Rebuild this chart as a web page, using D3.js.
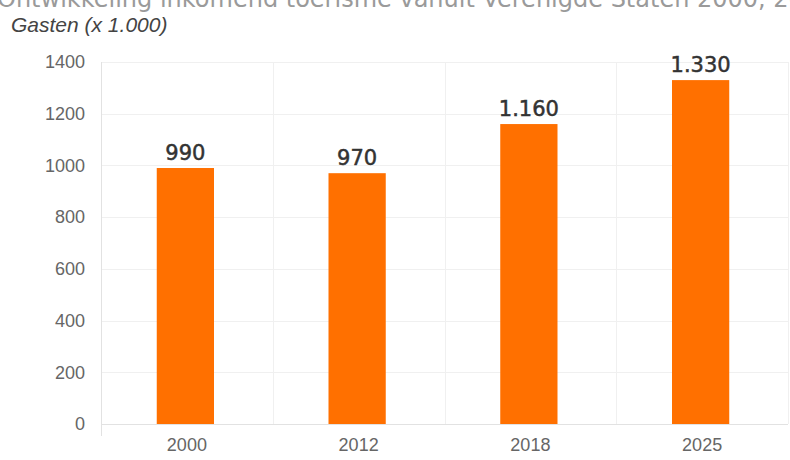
<!DOCTYPE html>
<html>
<head>
<meta charset="utf-8">
<script src="https://cdn.jsdelivr.net/npm/d3@7"></script>
<style>
  body { margin: 0; background: #fff; }
  svg { display: block; }
</style>
</head>
<body>
<div id="chart"></div>
<script>
const years = ["2000", "2012", "2018", "2025"]
const guests = [990, 970, 1160, 1330]
const valueLabels = ["990", "970", "1.160", "1.330"]
const yTicks = [0, 200, 400, 600, 800, 1000, 1200, 1400]

const W = 790, H = 460
const margin = { top: 62, right: 2, bottom: 36, left: 101 }
const width = W - margin.left - margin.right,
    height = H - margin.top - margin.bottom

const root = d3.select("#chart")
    .append("svg")
    .attr("width", W)
    .attr("height", H)

/* title, cut off at the top like in the original */
root.append("text")
    .attr("x", -3)
    .attr("y", 7)
    .attr("font-family", "DejaVu Sans")
    .attr("font-size", 24)
    .attr("fill", "#9a9a9a")
    .text("Ontwikkeling inkomend toerisme vanuit Verenigde Staten 2000, 2012, 2018 en 2025")

root.append("text")
    .attr("x", 11)
    .attr("y", 32)
    .attr("font-family", "Liberation Sans")
    .attr("font-style", "italic")
    .attr("font-size", 21)
    .attr("fill", "#444")
    .text("Gasten (x 1.000)")

const svg = root.append("g")
    .attr("transform", `translate(${margin.left}, ${margin.top})`)

let x = d3.scaleBand()
    .range([0, width])
    .domain(years)
    .padding(0)

let y = d3.scaleLinear()
    .domain([0, 1400])
    .range([height, 0])

/* grid */
svg.append("g")
    .selectAll("line")
    .data(yTicks)
    .enter()
    .append("line")
    .attr("x1", 0)
    .attr("x2", width)
    .attr("y1", d => Math.round(y(d)) + 0.5)
    .attr("y2", d => Math.round(y(d)) + 0.5)
    .attr("stroke", d => d === 0 ? "#e2e2e2" : "#f0f0f0")

svg.append("g")
    .selectAll("line")
    .data(years.concat(["end"]))
    .enter()
    .append("line")
    .attr("x1", (d, i) => Math.round(i * x.bandwidth()) + 0.5)
    .attr("x2", (d, i) => Math.round(i * x.bandwidth()) + 0.5)
    .attr("y1", 0)
    .attr("y2", (d, i) => i === 0 ? height + 12 : height)
    .attr("stroke", (d, i) => i === 0 ? "#e2e2e2" : "#f0f0f0")

/* Y-axis */
const yAxis = svg.append("g")
    .call(d3.axisLeft(y).tickValues(yTicks).tickFormat(d3.format("d")).tickSize(0).tickPadding(16))
yAxis.select(".domain").remove()
yAxis.selectAll("text")
    .attr("font-family", "Liberation Sans")
    .attr("font-size", 18)
    .attr("fill", "#666")

/* X-axis */
const xAxis = svg.append("g")
    .attr("transform", `translate(0, ${height})`)
    .call(d3.axisBottom(x).tickSize(0).tickPadding(14))
xAxis.select(".domain").remove()
xAxis.selectAll("text")
    .attr("font-family", "Liberation Sans")
    .attr("font-size", 18)
    .attr("fill", "#666")

const barW = x.bandwidth() / 3

svg.selectAll("bar")
    .data(guests)
    .enter()
    .append("rect")
    .attr("x", (d, i) => x(years[i]) + x.bandwidth() / 2 - barW / 2 - 1.5)
    .attr("y", d => y(d))
    .attr("width", barW)
    .attr("height", d => height - y(d))
    .attr("fill", "#ff7000")

svg.selectAll("bar-label")
    .data(guests)
    .enter()
    .append("text")
    .text((d, i) => valueLabels[i])
    .attr("x", (d, i) => x(years[i]) + x.bandwidth() / 2 - 1.5)
    .attr("y", d => y(d) - 8)
    .attr("text-anchor", "middle")
    .attr("font-family", "DejaVu Sans")
    .attr("font-size", 21)
    .attr("fill", "#333")
    .attr("stroke", "#333")
    .attr("stroke-width", 0.5)
</script>
</body>
</html>
